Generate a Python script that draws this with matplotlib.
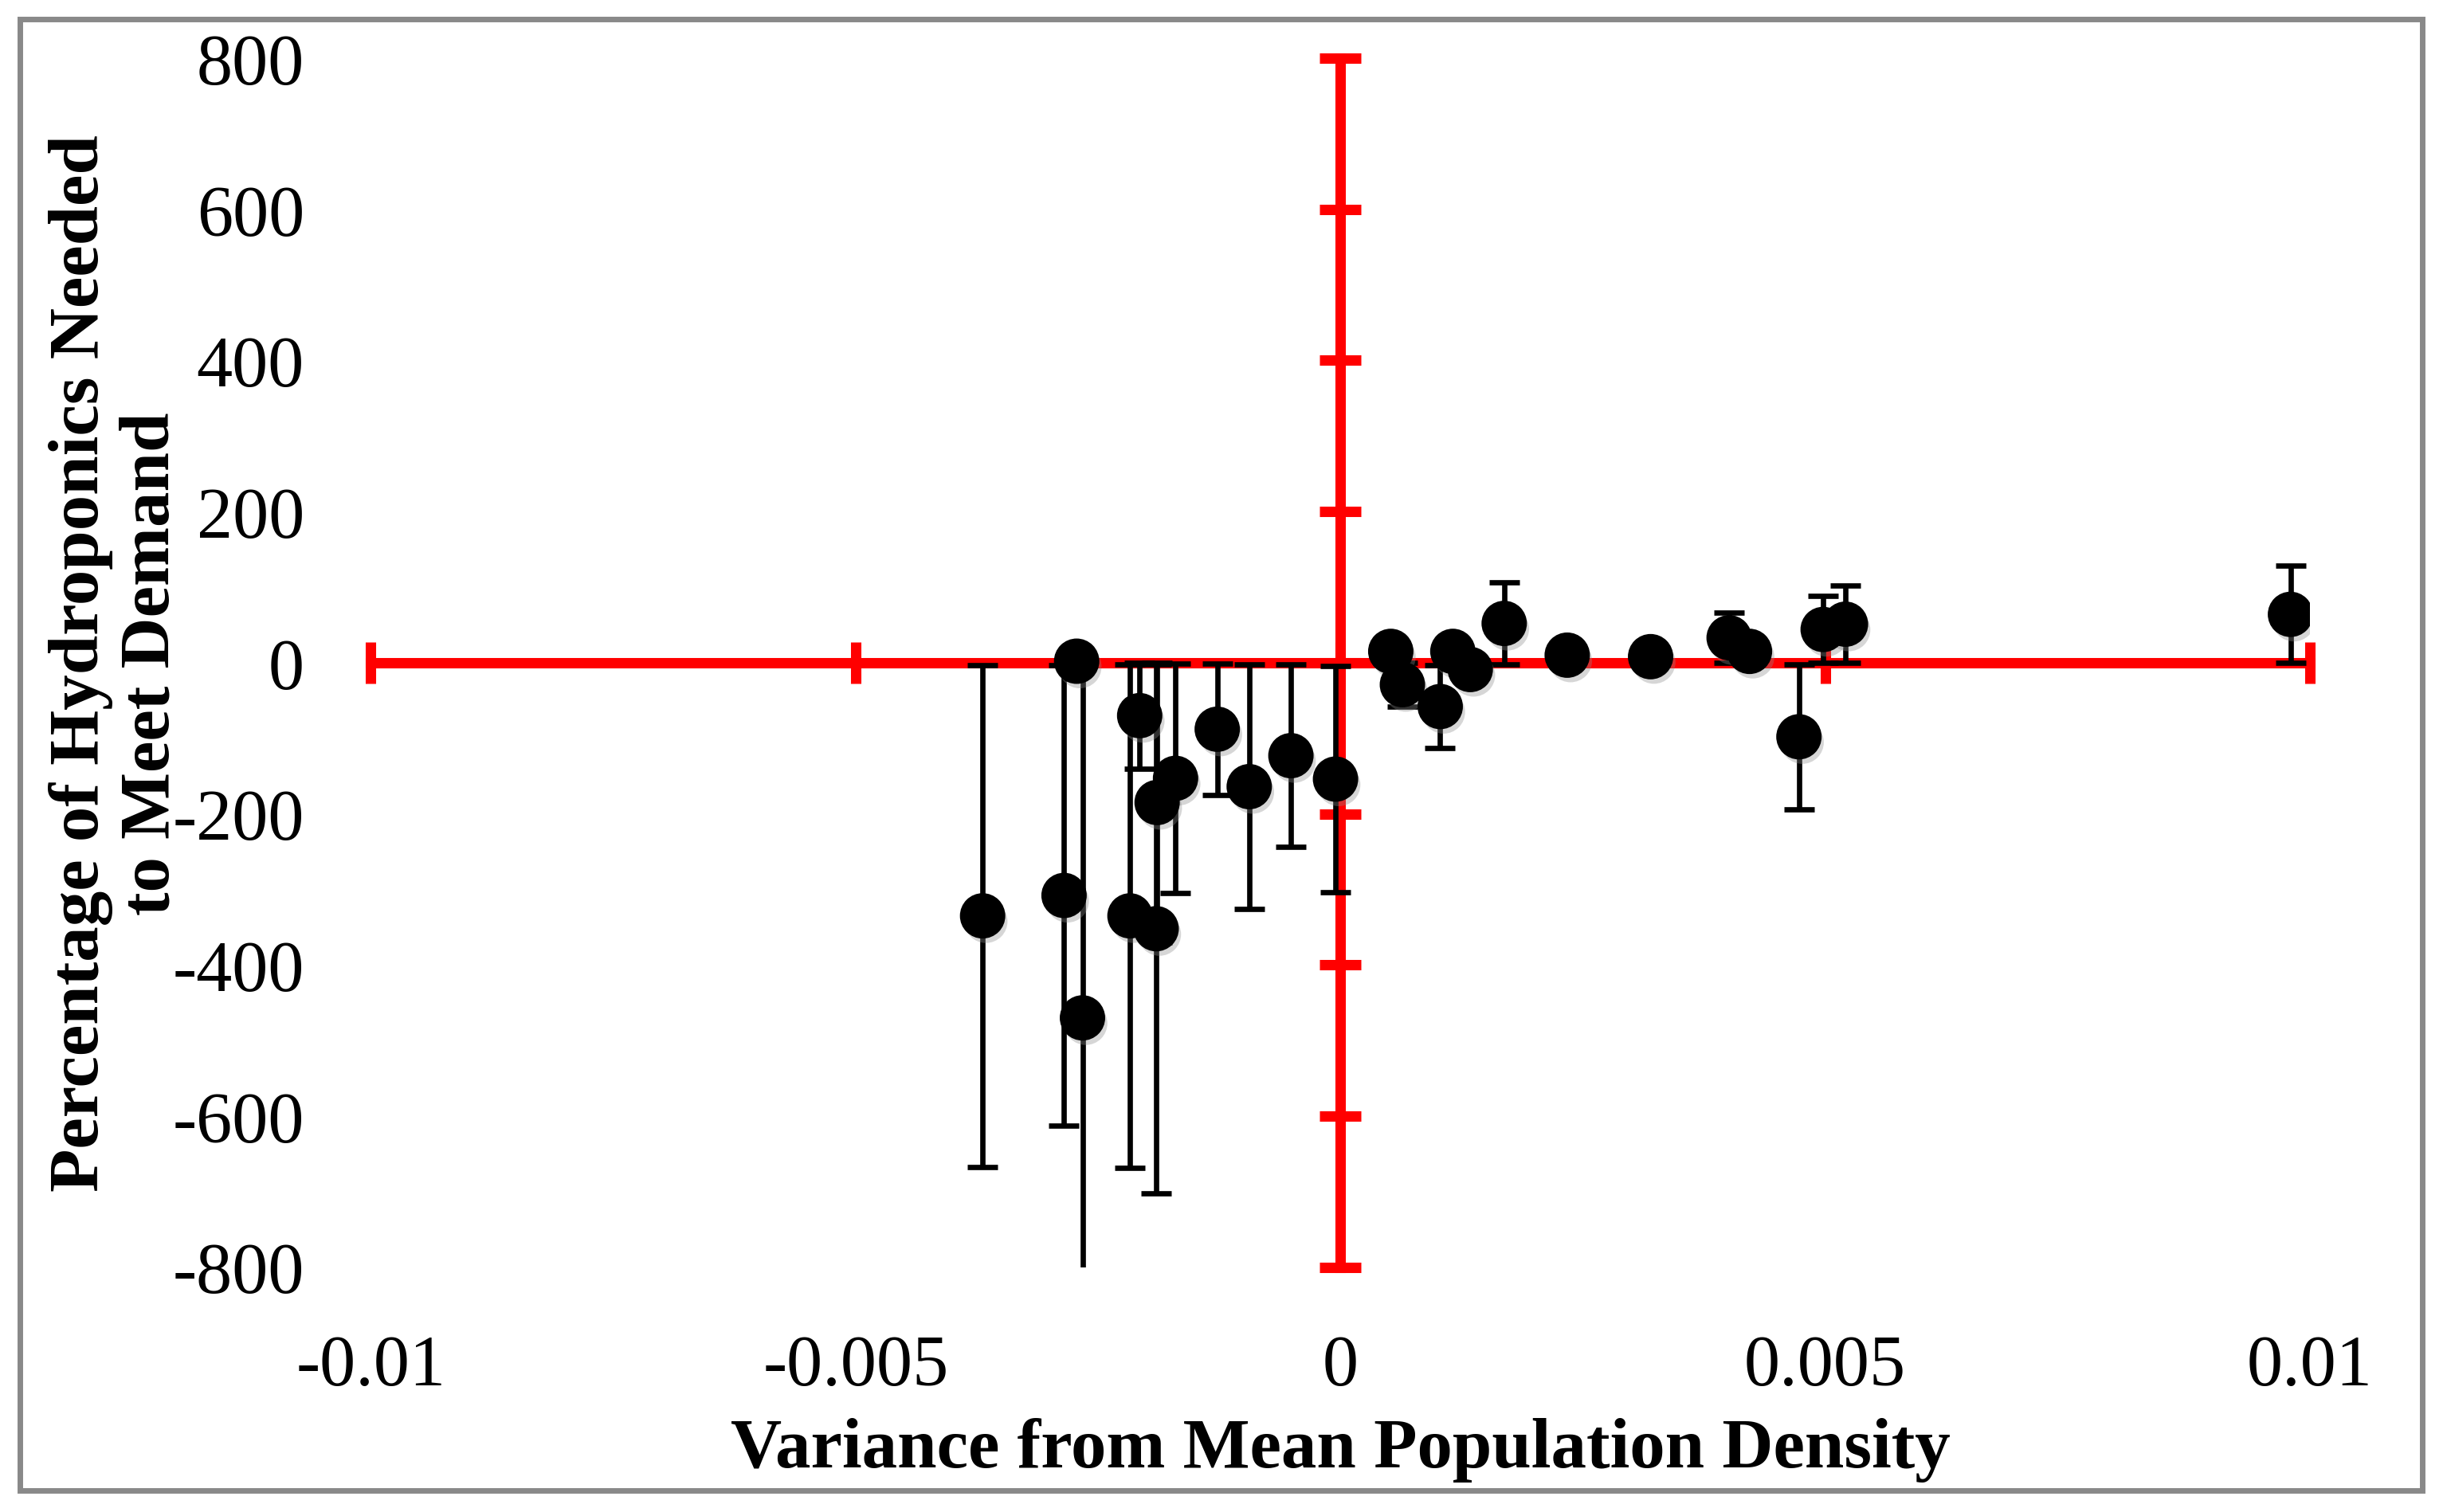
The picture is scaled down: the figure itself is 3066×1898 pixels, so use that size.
import numpy as np
import matplotlib
matplotlib.use("Agg")
import matplotlib.pyplot as plt
import matplotlib.patheffects as pe
from matplotlib.patches import Rectangle

# --- DATA ---
variance = [-0.00369, -0.00285, -0.00272, -0.00266, -0.00217, -0.00207,
            -0.00190, -0.00189, -0.00170, -0.00127, -0.00094, -0.00051,
            -0.00005, 0.00052, 0.00064, 0.00103, 0.00116, 0.00134,
            0.00169, 0.00234, 0.00320, 0.00401, 0.00422, 0.00473,
            0.00498, 0.00521, 0.00980]
percent = [-335, -308, 2, -470, -335, -70,
           -352, -185, -153, -88, -164, -123,
           -154, 15, -29, -58, 15, -9,
           52, 10, 8, 33, 15, -98,
           44, 51, 64]
percent_err = [332, 305, 2, 470, 333, 70,
               350, 185, 152, 87, 162, 121,
               150, 15, 29, 55, 15, 9,
               54, 10, 8, 33, 15, 96,
               44, 51, 64]

x_ticks = [-0.01, -0.005, 0, 0.005, 0.01]
x_ticklabels = ["-0.01", "-0.005", "0", "0.005", "0.01"]
y_ticks = [-800, -600, -400, -200, 0, 200, 400, 600, 800]

x_label = "Variance from Mean Population Density"
y_label = "Percentage of Hydroponics Needed\nto Meet Demand"

# --- STYLE ---
plt.rcParams['font.family'] = ['Liberation Serif', 'DejaVu Serif']
plt.rcParams['axes.unicode_minus'] = False
RED = '#ff0000'

fig = plt.figure(figsize=(15.33, 9.495), dpi=200)
ax = fig.add_axes([0.1518, 0.1618, 0.7937, 0.7992])

ax.set_xlim(-0.01, 0.01)
ax.set_ylim(-800, 800)

# red axes crossing at the origin
for side in ['left', 'bottom']:
    ax.spines[side].set_visible(False)
ax.spines['right'].set_position(('data', 0))
ax.spines['top'].set_position(('data', 0))
for side in ['right', 'top']:
    ax.spines[side].set_color(RED)
    ax.spines[side].set_linewidth(4.7)

ax.set_xticks(x_ticks)
ax.set_xticklabels(x_ticklabels)
ax.set_yticks(y_ticks)
ax.tick_params(axis='x', bottom=False, top=True, labelbottom=True, labeltop=False,
               direction='inout', length=19, width=4.7, color=RED,
               labelsize=32.5, pad=20.5)
ax.tick_params(axis='y', left=False, right=True, labelleft=True, labelright=False,
               direction='inout', length=19, width=4.7, color=RED,
               labelsize=32.5, pad=20.5)

# error bars under the markers
ax.errorbar(variance, percent, yerr=percent_err, fmt='none', ecolor='black',
            elinewidth=2.4, capsize=7, capthick=2.4, zorder=3)
ax.plot(variance, percent, linestyle='none', marker='o', markersize=19.5,
        color='black', zorder=4,
        path_effects=[pe.SimplePatchShadow(offset=(1.5, -2.5), shadow_rgbFace='0.55',
                                           alpha=0.35), pe.Normal()])

fig.text(0.5486, 0.030, x_label, ha='center', va='baseline',
         fontsize=32, fontweight='bold')
fig.text(0.0475, 0.5614, y_label, ha='center', va='center', rotation=90,
         multialignment='center', linespacing=1.12, fontsize=32, fontweight='bold')

# grey frame round the whole chart
fig.patches.append(Rectangle((0.0082, 0.0142), 0.9833, 0.9726, transform=fig.transFigure,
                             fill=False, edgecolor='#898989', linewidth=2.5))

fig.savefig("out.png", dpi=200, facecolor='white')
